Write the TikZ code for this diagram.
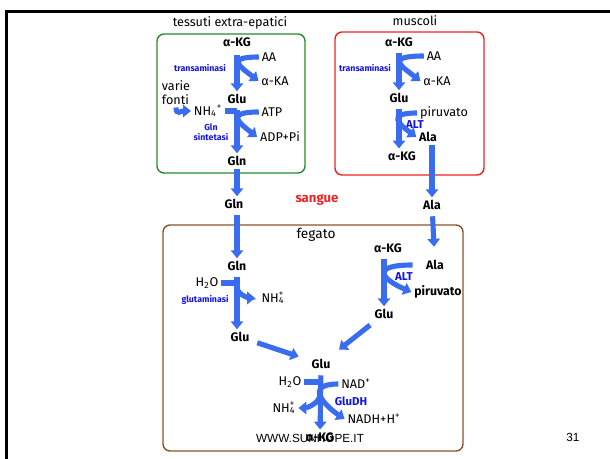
\documentclass[tikz,border=0pt]{standalone}
\usepackage{fontspec}
\setmainfont{Fira Sans}
\newfontfamily\slidefont{Liberation Sans}
\usetikzlibrary{arrows.meta}
\definecolor{flowblue}{RGB}{58,108,240}
\definecolor{enzblue}{RGB}{20,20,225}
\definecolor{boxgreen}{RGB}{40,140,40}
\definecolor{boxred}{RGB}{235,35,35}
\definecolor{boxbrown}{RGB}{135,85,45}

\begin{document}
\begin{tikzpicture}[x=0.02cm,y=-0.02cm,
	every node/.style={inner sep=1.5pt,font=\fontsize{7.2}{8}\selectfont},
	mol/.style={font=\fontsize{7}{8}\selectfont\bfseries},
	enz/.style={text=enzblue,align=center,font=\fontsize{5}{5.8}\selectfont\bfseries},
	enzbig/.style={text=enzblue,font=\fontsize{6.5}{7}\selectfont\bfseries},
	flow/.style={draw=flowblue,line width=2.9pt,-{Triangle[width=7pt,length=4.5pt]}},
	stub/.style={draw=flowblue,line width=2.9pt},
	region/.style={rounded corners=4pt,line width=0.8pt}]
	\useasboundingbox (0,0) rectangle (610,459);
	\draw [line width=1.2pt] (6.5,459) -- (6.5,11.5) -- (610,11.5);
	\draw [region,boxgreen] (157,34) rectangle (305,173);
	\draw [region,boxred] (335,32) rectangle (484,175);
	\draw [region,boxbrown] (163,225) rectangle (463,451);
	\node (tessuti) at (230,23) {tessuti extra-epatici};
	\node (muscoli) at (415,21) {muscoli};
	\node [text=boxred,font=\fontsize{7.5}{8}\selectfont\bfseries] (sangue) at (317,200) {sangue};
	\node [font=\fontsize{7.8}{8}\selectfont] (fegato) at (316,235) {fegato};
	\node [mol] (ekg) at (237,42) {α-KG};
	\node (eaa) at (269,57) {AA};
	\node (eaka) at (275,81) {α-KA};
	\node [enz] (etrans) at (200,68) {transaminasi};
	\node [align=left] (evarie) at (176,92.5) {varie\\fonti};
	\node (enh) at (208,111) {NH\textsubscript{4}\textsuperscript{+}};
	\node [mol] (eglu) at (237,99) {Glu};
	\node (eatp) at (272,112) {ATP};
	\node (eadp) at (280,137) {ADP+Pi};
	\node [enz] (esint) at (211,132) {Gln\\sintetasi};
	\node [mol] (egln) at (237,161) {Gln};
	\node [mol] (mkg) at (399,42) {α-KG};
	\node (maa) at (434,56) {AA};
	\node (maka) at (437,81) {α-KA};
	\node [enz] (mtrans) at (365,68) {transaminasi};
	\node [mol] (mglu) at (399,98) {Glu};
	\node (mpir) at (444,113) {piruvato};
	\node [enzbig] (malt) at (415,125) {ALT};
	\node [mol] (mala) at (428,137) {Ala};
	\node [mol] (mkg2) at (402,156) {α-KG};
	\node [mol] (bgln) at (234,204) {Gln};
	\node [mol] (bala) at (432,205) {Ala};
	\node [mol] (lgln) at (237,266) {Gln};
	\node (lh2o) at (207,283) {H\textsubscript{2}O};
	\node [enz] (lglut) at (205,300) {glutaminasi};
	\node (lnh) at (273,298) {NH\rlap{\textsuperscript{+}}\textsubscript{4}};
	\node [mol] (lglu) at (240,337) {Glu};
	\node [mol] (lkg) at (388,248) {α-KG};
	\node [mol] (lala) at (435,265) {Ala};
	\node [enzbig] (lalt) at (404,277) {ALT};
	\node [mol] (lpir) at (438,292) {piruvato};
	\node [mol] (lglu2) at (384,314) {Glu};
	\node [mol] (cglu) at (321,364) {Glu};
	\node (ch2o) at (290,382) {H\textsubscript{2}O};
	\node (cnad) at (356,384) {NAD\textsuperscript{+}};
	\node [enzbig] (cgludh) at (351,401) {GluDH};
	\node (cnh) at (284,408) {NH\rlap{\textsuperscript{+}}\textsubscript{4}};
	\node (cnadh) at (374,419) {NADH+H\textsuperscript{+}};
	\node [mol] (ckg) at (320,437) {α-KG};
	\node [font=\fontsize{6.7}{8}\slidefont] (www) at (310,438) {WWW.SUNHOPE.IT};
	\node [font=\fontsize{6.7}{8}\slidefont] (page) at (573,437) {31};
	\coordinate (lbr) at (237,287);
	\coordinate (cbr) at (320,394);
	\draw [flow,shorten <=3pt] (ekg) -- (eglu);
	\draw [flow,shorten <=2pt] (eglu) -- (egln);
	\draw [flow] (eaa.west) .. controls +(-34,0) and +(-18,-14) .. (eaka.west);
	\draw [flow] (eatp.west) .. controls +(-34,0) and +(-18,-14) .. (eadp.west);
	\draw [flow] (evarie.south) .. controls +(0,8) and +(-10,0) .. (enh.west);
	\draw [stub] (enh.east) -- (enh.east -| eglu);
	\draw [flow,shorten <=2pt] (mkg) -- (mglu);
	\draw [flow,shorten <=2pt] (mglu) -- (mglu |- mkg2.north);
	\draw [flow] (maa.west) .. controls +(-40,0) and +(-18,-14) .. (maka.west);
	\draw [flow] (mpir.west) .. controls +(-32,0) and +(-16,-12) .. (mala.west);
	\draw [flow] (egln.south) -- (egln |- bgln.north);
	\draw [flow] (bala |- mala.south) -- (bala.north);
	\draw [flow,shorten <=2pt] (lgln |- bgln.south) -- (lgln.north);
	\draw [flow,shorten <=2pt,shorten >=6pt] (bala) -- (lala);
	\draw [flow,shorten <=2pt] (lgln) -- (lglu.north -| lgln);
	\draw [stub] (lh2o.east) -- (lh2o.east -| lgln);
	\draw [flow,shorten >=2pt] (lbr) .. controls +(0,9) and +(-7,0) .. (lnh.west);
	\draw [flow,shorten <=2pt] (lglu2 |- lkg.south) -- (lglu2.north);
	\draw [flow,shorten <=6pt] (lala.west) .. controls +(-55,0) and +(-28,-12) .. (lpir.west);
	\draw [flow,shorten <=3pt,shorten >=6pt] (lglu) -- (cglu);
	\draw [flow,shorten <=3pt,shorten >=6pt] (lglu2) -- (cglu);
	\draw [flow,shorten <=2pt] (cglu) -- (ckg);
	\draw [stub] (ch2o.east) -- (ch2o.east -| cglu);
	\draw [flow] (cnad.west) .. controls +(-36,0) and +(-18,-12) .. (cnadh.west);
	\draw [flow] (cbr) .. controls +(0,10) and +(7,0) .. (cnh.east);
\end{tikzpicture}
\end{document}
